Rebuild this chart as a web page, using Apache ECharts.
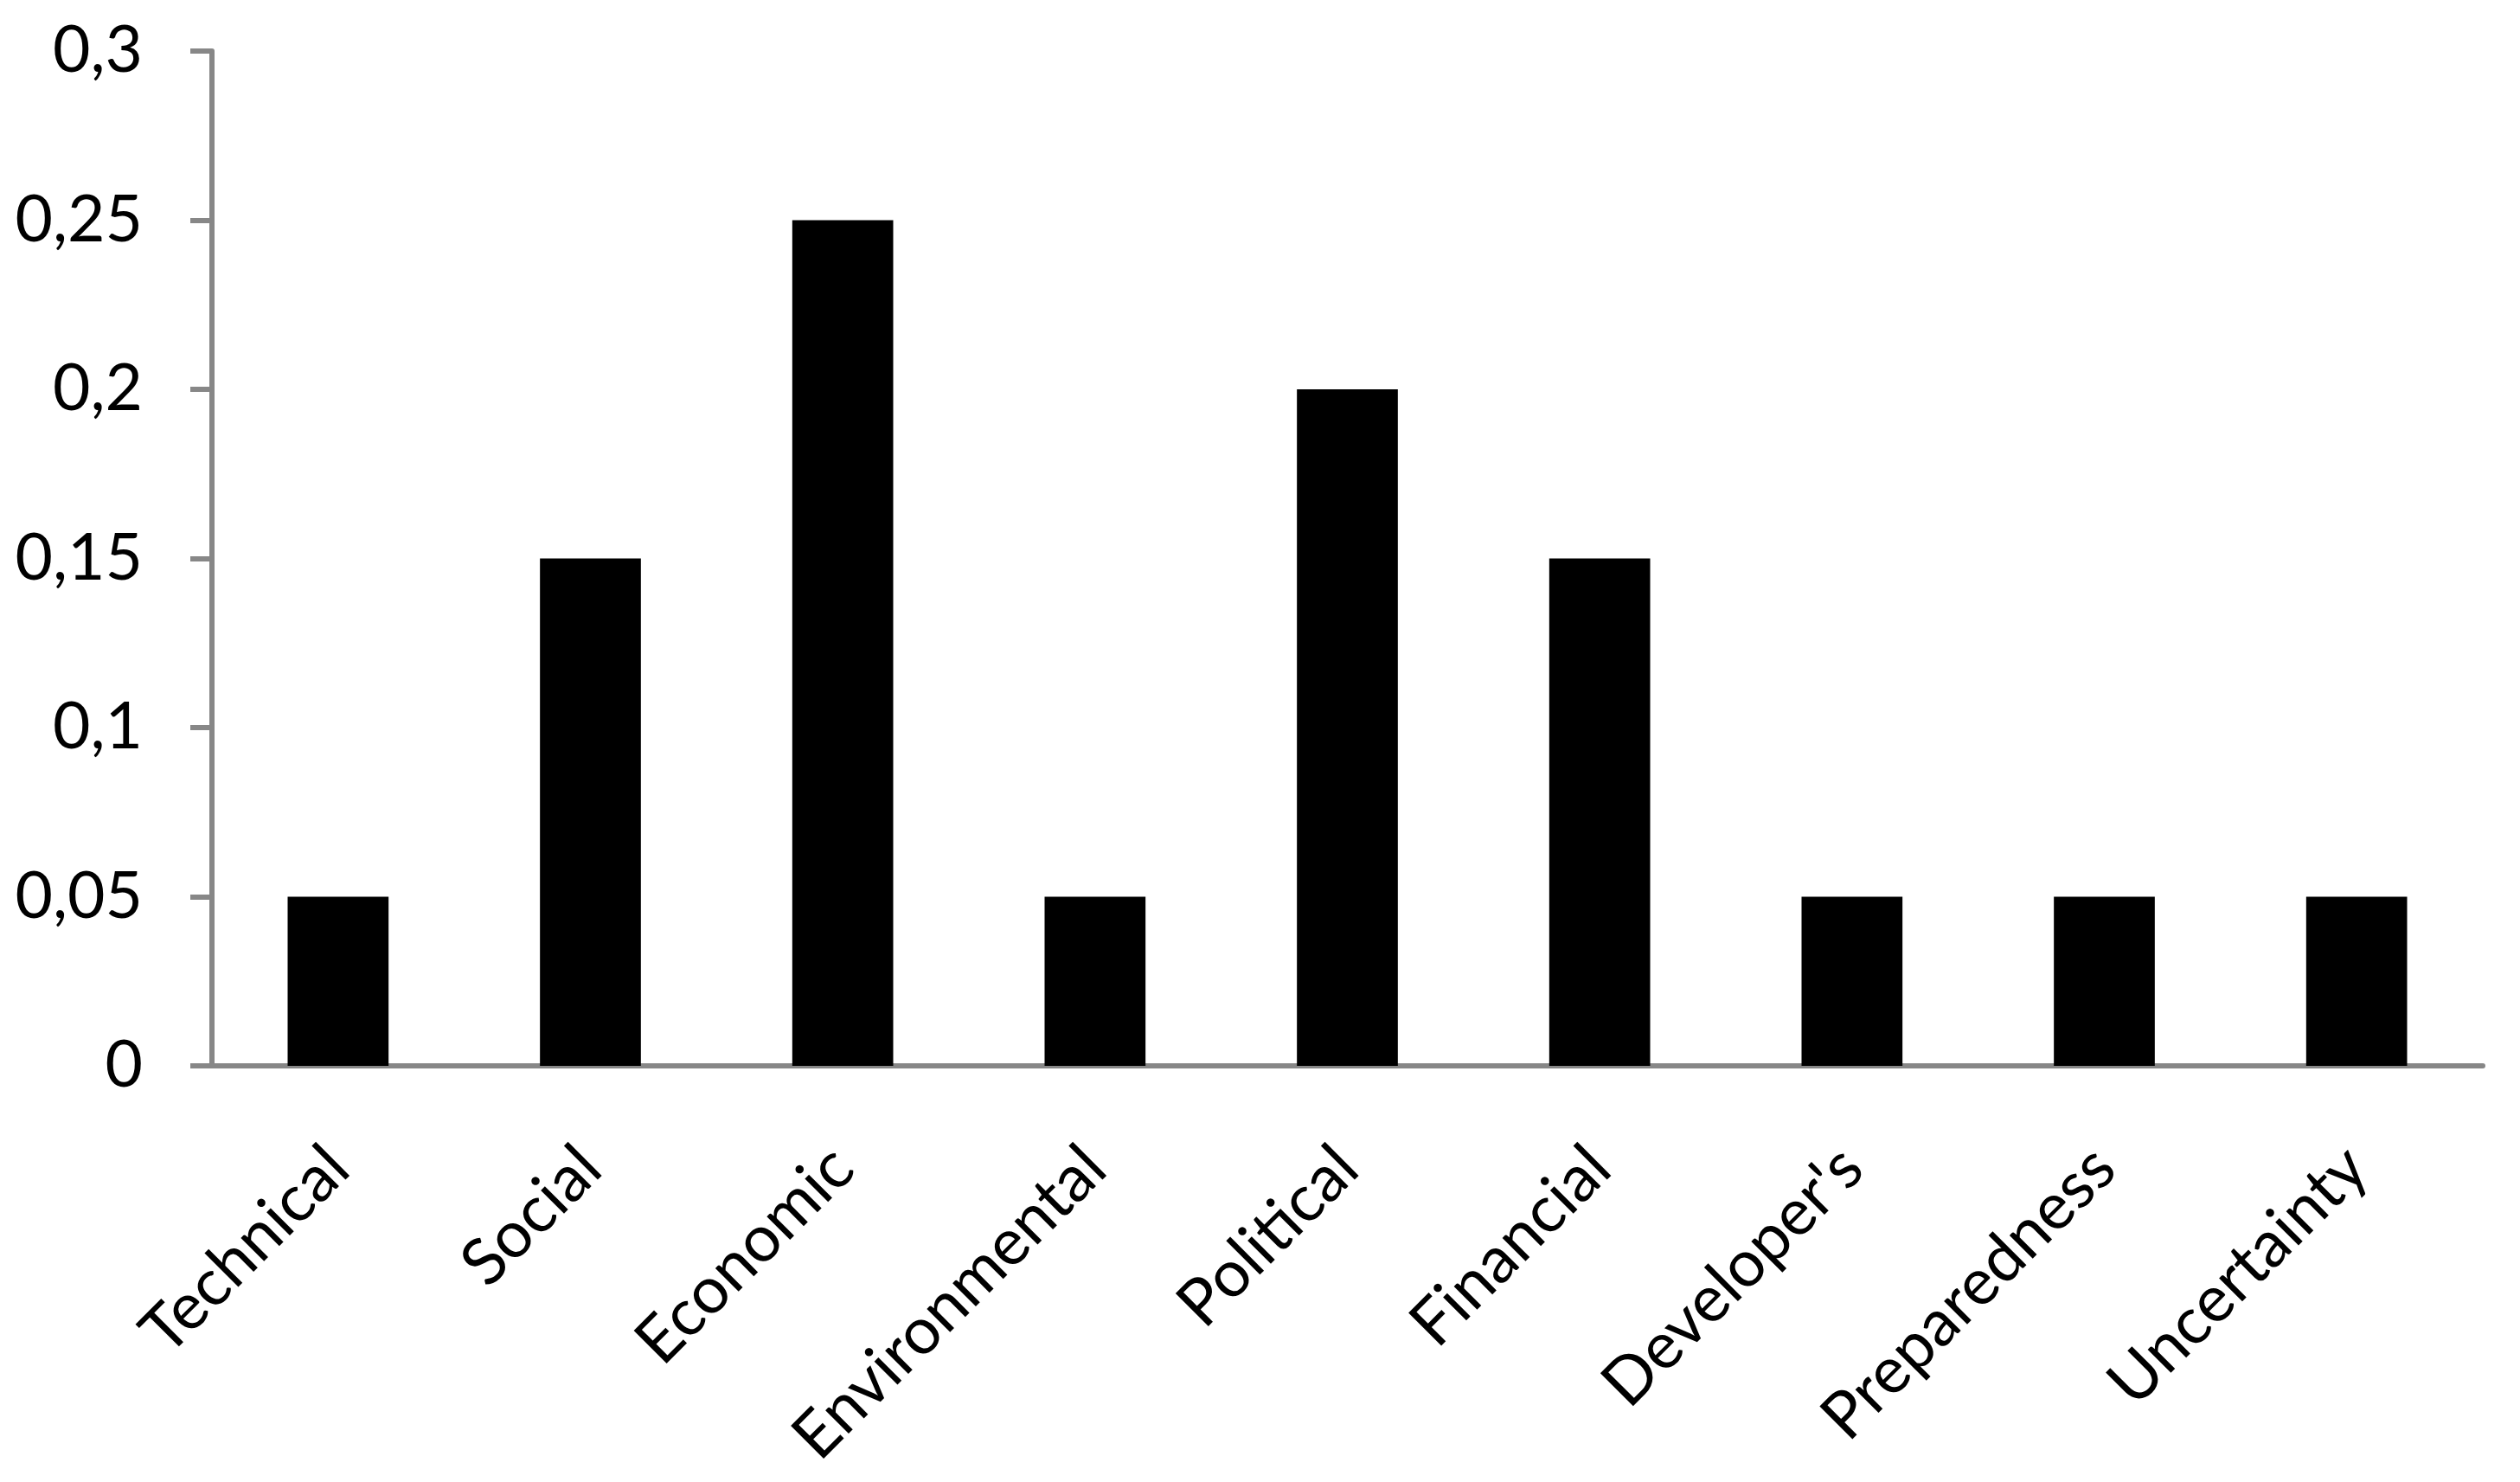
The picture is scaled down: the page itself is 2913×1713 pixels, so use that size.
<!DOCTYPE html>
<html>
<head>
<meta charset="utf-8">
<script src="https://cdn.jsdelivr.net/npm/echarts@6/dist/echarts.min.js"></script>
<style>
  html, body { margin: 0; padding: 0; background: #ffffff; }
  #chart { width: 2913px; height: 1713px; }
</style>
</head>
<body>
<div id="chart"></div>
<script>
const categories = ['Technical', 'Social', 'Economic', 'Environmental', 'Political',
  'Financial', "Developer's", 'Preparedness', 'Uncertainty']
const values = [0.05, 0.15, 0.25, 0.05, 0.2, 0.15, 0.05, 0.05, 0.05]
const yTicks = { min: 0, max: 0.3, interval: 0.05 }

const axisColor = '#878787'
const font = 'Lato, "Open Sans", sans-serif'

const chart = echarts.init(document.getElementById('chart'))
const option = {
  animation: false,
  backgroundColor: '#ffffff',
  grid: {
    left: 245,
    right: 43,
    top: 59,
    bottom: 481,
    containLabel: false,
    outerBoundsMode: 'none'
  },
  xAxis: {
    type: 'category',
    data: categories,
    boundaryGap: true,
    axisLine: { lineStyle: { color: axisColor, width: 6 } },
    axisTick: { length: 25, lineStyle: { color: axisColor, width: 6 } },
    axisLabel: {
      interval: 0,
      rotate: 45,
      margin: 106,
      color: '#000000',
      fontFamily: font,
      fontSize: 75
    }
  },
  yAxis: {
    type: 'value',
    min: yTicks.min,
    max: yTicks.max,
    interval: yTicks.interval,
    splitLine: { show: false },
    axisLine: { show: true, lineStyle: { color: axisColor, width: 6 } },
    axisTick: { show: true, length: 25, lineStyle: { color: axisColor, width: 6 } },
    axisLabel: {
      margin: 80,
      color: '#000000',
      fontFamily: font,
      fontSize: 75,
      formatter: function (v) {
        return String(Math.round(v * 100) / 100).replace('.', ',')
      }
    }
  },
  series: [{
    type: 'bar',
    data: values,
    barWidth: '40%',
    itemStyle: { color: '#000000' }
  }]
}
chart.setOption(option)
</script>
</body>
</html>
